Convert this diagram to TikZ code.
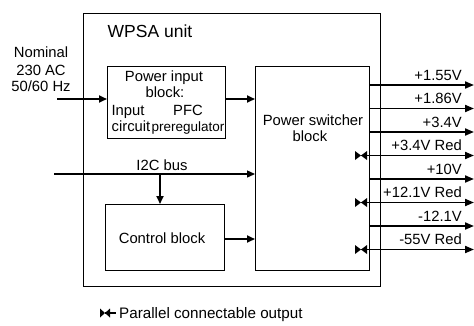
\documentclass[tikz,border=0pt]{standalone}
\usepackage{fontspec}
\setmainfont{Liberation Sans}
\usetikzlibrary{arrows.meta}
\begin{document}
\begin{tikzpicture}[x=1pt,y=-1pt,
  font=\fontsize{14.8}{16}\selectfont,
  blk/.style={draw,line width=1.2pt,inner sep=0pt,anchor=north west},
  txt/.style={inner sep=0pt,anchor=base},
  lab/.style={inner sep=0pt,anchor=base east},
  conn/.style={line width=1.8pt,-{Triangle[length=8pt,width=7pt]}},
  outl/.style={line width=1.9pt,-{Triangle[length=9pt,width=7pt]}},
  bowtie/.style={fill=black,draw=none}]
\useasboundingbox (0,0) rectangle (474,325);
% boxes
\node[blk,line width=0.9pt,minimum width=297pt,minimum height=273pt] (wpsa) at (83,13) {};
\node[blk,minimum width=118pt,minimum height=72pt] (pin) at (107,66) {};
\node[blk,minimum width=114pt,minimum height=204pt] (sw) at (255,66) {};
\node[blk,minimum width=119pt,minimum height=66pt] (ctrl) at (105,204) {};
% texts
\node[txt,font=\fontsize{17.5}{19}\selectfont] (twpsa) at (150,37) {WPSA unit};
\node[txt] (n1) at (41,57) {Nominal};
\node[txt] (n2) at (41,75) {230 AC};
\node[txt] (n3) at (41,91) {50/60 Hz};
\node[txt] (p1) at (164,81) {Power input};
\node[txt] (p2) at (165,97) {block:};
\node[txt] (p3) at (128,115) {Input};
\node[txt] (p4) at (188,115) {PFC};
\node[txt] (p5) at (131,131) {circuit};
\node[txt,font=\fontsize{13.5}{15}\selectfont] (p6) at (188,131) {preregulator};
\node[txt] (s1) at (313,125) {Power switcher};
\node[txt] (s2) at (310,141) {block};
\node[txt] (c1) at (162,243) {Control block};
\node[txt] (ib) at (162,170) {I2C bus};
% input connectors
\coordinate (ac) at (57,99);
\draw[conn] (ac) -- (pin.west |- ac);
\draw[conn] (pin.east |- ac) -- (sw.west |- ac);
\coordinate (i2c) at (54,174);
\draw[conn,line width=1.4pt] (i2c) -- (sw.west |- i2c);
\coordinate (tap) at (160,174);
\draw[conn] (tap) -- (tap |- ctrl.north);
\coordinate (cy) at (0,239);
\draw[conn] (ctrl.east |- cy) -- (sw.west |- cy);
% outputs
\foreach \y/\t/\r [count=\i] in {85/+1.55V/0,108.5/+1.86V/0,132/+3.4V/0,155.5/+3.4V Red/1,179/+10V/0,202.5/+12.1V Red/1,226/-12.1V/0,249.5/-55V Red/1}{
  \coordinate (o\i) at (474,\y);
  \node[lab] (l\i) at (462,\y-5) {\t};
  \ifnum\r=1
    \fill[bowtie] (355,\y-4.5) -- (361,\y) -- (355,\y+4.5) -- cycle;
    \fill[bowtie] (367,\y-4.5) -- (361,\y) -- (367,\y+4.5) -- cycle;
    \draw[outl] (361,\y) -- (o\i);
  \else
    \draw[outl] (sw.east |- o\i) -- (o\i);
  \fi
}
% legend
\fill[bowtie] (100,308.5) -- (105,313) -- (100,317.5) -- cycle;
\fill[bowtie] (110,308.5) -- (105,313) -- (110,317.5) -- cycle;
\draw[line width=1.4pt] (105,313) -- (116,313);
\node[inner sep=0pt,anchor=base west,font=\fontsize{15.2}{17}\selectfont] (leg) at (119,318) {Parallel connectable output};
\end{tikzpicture}
\end{document}
